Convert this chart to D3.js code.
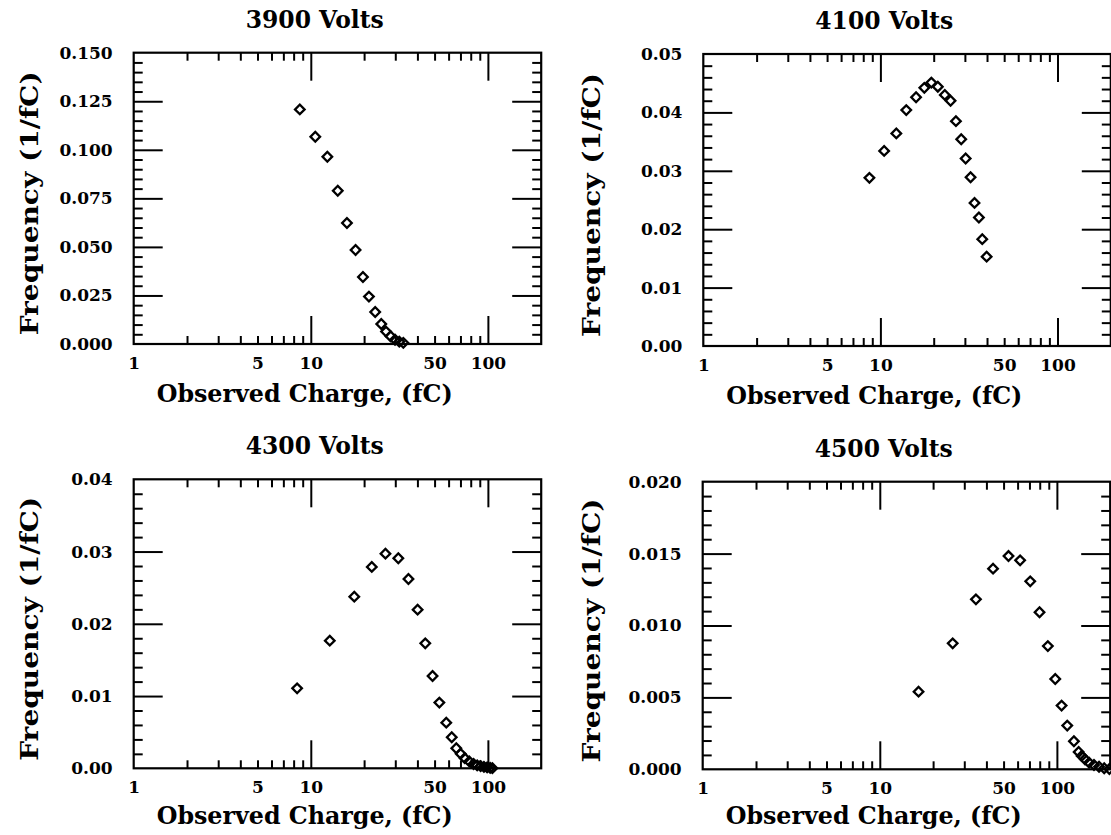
<!DOCTYPE html>
<html><head><meta charset="utf-8">
<script src="https://cdn.jsdelivr.net/npm/d3@7"></script>
<style>body{margin:0;background:#fff}</style>
</head><body>
<svg id="c" width="1111" height="835"></svg>
<script>
// ---- data ----
const titles = ["3900 Volts", "4100 Volts", "4300 Volts", "4500 Volts"];
const xAxisTitle = "Observed Charge, (fC)";
const yAxisTitle = "Frequency (1/fC)";

const charge3900 = [8.67, 10.6, 12.4, 14.2, 16.0, 17.9, 19.7, 21.3, 23.1, 25.0, 26.6, 28.2, 29.9, 31.6, 33.3];
const freq3900   = [0.1208, 0.1067, 0.0964, 0.0789, 0.0623, 0.0484, 0.0345, 0.0244, 0.0165, 0.0103, 0.0064, 0.0040, 0.0022, 0.0012, 0.0006];

const charge4100 = [8.67, 10.5, 12.3, 14.0, 15.9, 17.7, 19.4, 21.1, 23.1, 24.9, 26.7, 28.6, 30.3, 32.3, 34.0, 36.0, 37.6, 39.8];
const freq4100   = [0.0288, 0.0334, 0.0364, 0.0404, 0.0426, 0.0442, 0.0451, 0.0444, 0.0430, 0.0420, 0.0385, 0.0354, 0.0321, 0.0289, 0.0245, 0.0220, 0.0183, 0.0153];

const charge4300 = [8.37, 12.8, 17.6, 22.1, 26.4, 31.2, 35.6, 40.1, 44.3, 48.7, 53.2, 58.2, 62.5, 66.3, 70.2, 74.0, 78.5, 83, 87, 91, 95, 99, 103, 106];
const freq4300   = [0.01107, 0.01767, 0.02376, 0.02787, 0.02971, 0.02907, 0.0262, 0.02196, 0.0173, 0.01278, 0.00909, 0.00632, 0.00430, 0.00277, 0.00200, 0.00140, 0.00095, 0.0006, 0.0004, 0.0003, 0.0002, 0.00012, 0.00006, 0.00002];

const charge4500 = [16.55, 25.8, 34.9, 43.6, 53.3, 62.0, 70.7, 79.8, 88.9, 97.9, 106.3, 114.4, 124.8, 132.7, 138, 144, 152, 162, 173, 185, 198];
const freq4500   = [0.0054, 0.00876, 0.01182, 0.01395, 0.01483, 0.01453, 0.01307, 0.01092, 0.00857, 0.00628, 0.00443, 0.00304, 0.00195, 0.00120, 0.00093, 0.0007, 0.00046, 0.0003, 0.00018, 0.00007, 0.00002];

const xDomain = [1, 200];
const xTickLabels = [1, 5, 10, 50, 100];
const xMajorTicks = [10, 100];
const xMinorTicks = [2, 3, 4, 5, 6, 7, 8, 9, 20, 30, 40, 50, 60, 70, 80, 90];

const yLabels3900 = ["0.000", "0.025", "0.050", "0.075", "0.100", "0.125", "0.150"];
const yLabels4100 = ["0.00", "0.01", "0.02", "0.03", "0.04", "0.05"];
const yLabels4300 = ["0.00", "0.01", "0.02", "0.03", "0.04"];
const yLabels4500 = ["0.000", "0.005", "0.010", "0.015", "0.020"];
const yMinorStep = [0.005, 0.002, 0.002, 0.001];

// ---- build ----
const series = [
  {xs: charge3900, ys: freq3900, labels: yLabels3900},
  {xs: charge4100, ys: freq4100, labels: yLabels4100},
  {xs: charge4300, ys: freq4300, labels: yLabels4300},
  {xs: charge4500, ys: freq4500, labels: yLabels4500}
];
const layout = [
  {x: 133.7, top: 52.7, bottom: 344.0, ytx: 37.5, xto: 58},
  {x: 703.3, top: 54.0, bottom: 346.0, ytx: 600.0, xto: 58},
  {x: 133.7, top: 479.3, bottom: 768.3, ytx: 37.5, xto: 56},
  {x: 702.7, top: 481.7, bottom: 769.3, ytx: 600.0, xto: 55}
];
const W = 407.5;
const svg = d3.select("#c");
const serif = "'DejaVu Serif', serif";

series.forEach((s, i) => {
  const L = layout[i];
  const H = L.bottom - L.top;
  const yVals = s.labels.map(Number);
  const yMax = yVals[yVals.length - 1];
  const x = d3.scaleLog().domain(xDomain).range([0, W]);
  const y = d3.scaleLinear().domain([0, yMax]).range([H, 0]);
  const g = svg.append("g").attr("transform", `translate(${L.x},${L.top})`);

  const yMinor = d3.range(0, yMax + 1e-9, yMinorStep[i]).filter(v => !yVals.some(m => Math.abs(m - v) < 1e-9));

  const tickGroup = (axis, tr) => {
    const a = g.append("g").attr("transform", tr).call(axis);
    a.select(".domain").remove();
    a.selectAll("line").attr("stroke", "#000").attr("stroke-width", 2);
    return a;
  };
  // x ticks (inward), bottom & top
  tickGroup(d3.axisBottom(x).tickValues(xMajorTicks).tickSize(-28).tickFormat(""), `translate(0,${H})`);
  tickGroup(d3.axisBottom(x).tickValues(xMinorTicks).tickSize(-8).tickFormat(""), `translate(0,${H})`);
  tickGroup(d3.axisTop(x).tickValues(xMajorTicks).tickSize(-28).tickFormat(""), `translate(0,0)`);
  tickGroup(d3.axisTop(x).tickValues(xMinorTicks).tickSize(-8).tickFormat(""), `translate(0,0)`);
  // y ticks (inward), left & right
  tickGroup(d3.axisLeft(y).tickValues(yVals.slice(1, -1)).tickSize(-29).tickFormat(""), `translate(0,0)`);
  tickGroup(d3.axisLeft(y).tickValues(yMinor).tickSize(-9).tickFormat(""), `translate(0,0)`);
  tickGroup(d3.axisRight(y).tickValues(yVals.slice(1, -1)).tickSize(-29).tickFormat(""), `translate(${W},0)`);
  tickGroup(d3.axisRight(y).tickValues(yMinor).tickSize(-9).tickFormat(""), `translate(${W},0)`);

  // frame
  g.append("rect").attr("x", 0).attr("y", 0).attr("width", W).attr("height", H)
    .attr("fill", "none").attr("stroke", "#000").attr("stroke-width", 2.2);

  // labels
  const xl = g.append("g").attr("transform", `translate(0,${H})`)
    .call(d3.axisBottom(x).tickValues(xTickLabels).tickSize(0).tickPadding(13).tickFormat(d3.format("d")));
  xl.select(".domain").remove();
  xl.selectAll("text").attr("font-family", serif).attr("font-weight", "bold").attr("font-size", 17).attr("fill", "#000");

  const yl = g.append("g")
    .call(d3.axisLeft(y).tickValues(yVals).tickSize(0).tickPadding(21).tickFormat((d, k) => s.labels[k]));
  yl.select(".domain").remove();
  yl.selectAll("text").attr("font-family", serif).attr("font-weight", "bold").attr("font-size", 17).attr("fill", "#000");

  // markers
  g.selectAll("path.pt").data(d3.zip(s.xs, s.ys)).join("path")
    .attr("class", "pt")
    .attr("d", d3.symbol(d3.symbolSquare, 46))
    .attr("transform", d => `translate(${x(d[0])},${y(d[1])}) rotate(45)`)
    .attr("fill", "none").attr("stroke", "#000").attr("stroke-width", 2.3);

  // title
  svg.append("text").attr("transform", `translate(${L.x + 181},${L.top - 25}) scale(1,1.2)`)
    .attr("text-anchor", "middle").attr("font-family", serif).attr("font-weight", "bold")
    .attr("font-size", 20).attr("textLength", 138).attr("lengthAdjust", "spacingAndGlyphs").text(titles[i]);
  // x title
  svg.append("text").attr("transform", `translate(${L.x + 171},${L.bottom + L.xto}) scale(1,1.2)`)
    .attr("text-anchor", "middle").attr("font-family", serif).attr("font-weight", "bold")
    .attr("font-size", 20).attr("textLength", 296).attr("lengthAdjust", "spacingAndGlyphs").text(xAxisTitle);
  // y title
  svg.append("text").attr("transform", `translate(${L.ytx},${(L.top + L.bottom) / 2 + 5}) rotate(-90) scale(1,1.2)`)
    .attr("text-anchor", "middle").attr("font-family", serif).attr("font-weight", "bold")
    .attr("font-size", 20).attr("textLength", 264).attr("lengthAdjust", "spacingAndGlyphs").text(yAxisTitle);
});
</script>
</body></html>
